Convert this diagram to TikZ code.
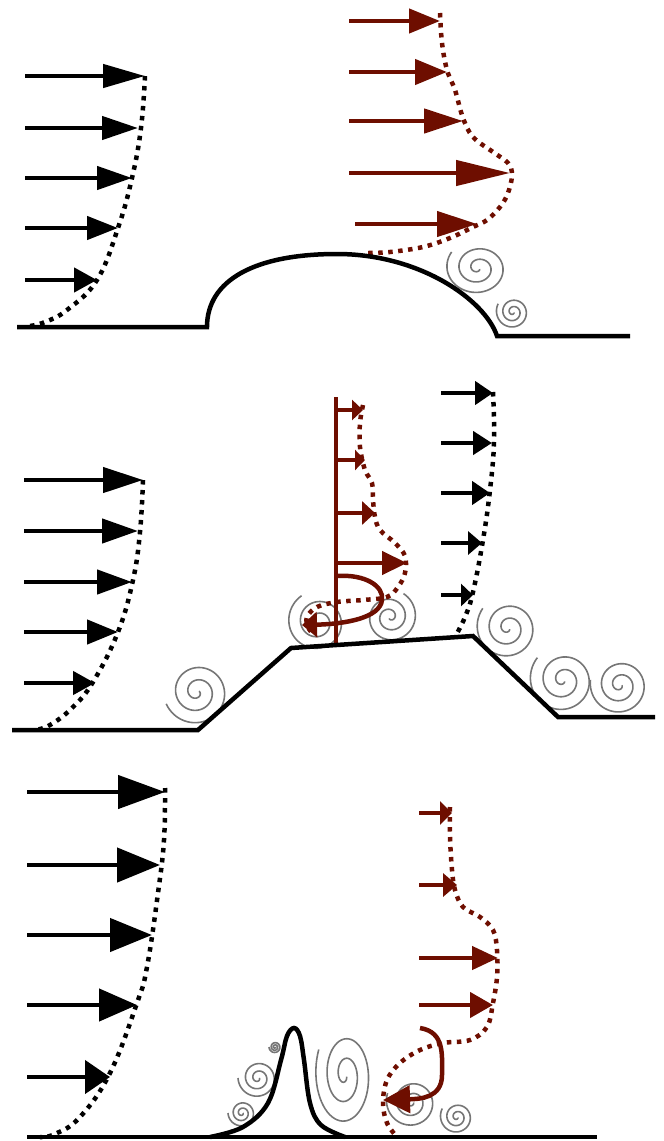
\documentclass[tikz,border=0pt]{standalone}
\usetikzlibrary{arrows.meta}
\definecolor{rust}{RGB}{110,14,0}
\definecolor{eddy}{RGB}{118,118,118}
\tikzset{
  wall/.style={line width=4.5pt, line join=miter},
  profile/.style={line width=4.5pt, dash pattern=on 4.5pt off 5.5pt},
  shaft/.style={line width=4.5pt},
  arrowhd/.style 2 args={-{Triangle[length=#1,width=#2]}},
  swirlline/.style={eddy, line width=1.6pt},
  % spiral: outer radius / end angle / winding sense
  pics/swirl/.style args={#1/#2/#3}{code={
    \draw[swirlline] plot[domain=0:900, samples=160, variable=\t]
      ({#2+#3*(\t-900)}:{#1*((\t+60)/960)});}},
}
\begin{document}
\begin{tikzpicture}[x=1pt,y=-1pt]
\useasboundingbox (0,0) rectangle (664,1141);

% ---------- top: rounded bump ----------
\pic[xscale=1.15] at (478,268) {swirl=28/215/1};
\pic at (513,312) {swirl=17/209/1};

\foreach \y/\x/\L/\W in {76/145/42/23, 128/138/36/23, 178/132/35/23, 228/118/31/23, 280/97/23/24}
  \draw[shaft, arrowhd={\L pt}{\W pt}] (25,\y) -- (\x,\y);
\draw[profile] plot[smooth, tension=0.7] coordinates {(145,76) (141,128) (132,178) (118,228) (97,280) (67,310) (45,322) (30,326)};

\foreach \y/\s/\x/\L/\W in {21/349/440/31/24, 72/349/447/32/25, 121/349/463/39/24, 173/349/510/54/25, 224/355/477/40/25}
  \draw[shaft, rust, arrowhd={\L pt}{\W pt}] (\s,\y) -- (\x,\y);
\draw[profile, rust] plot[smooth, tension=0.6] coordinates {(440,13) (442,43) (447,70) (455,90) (463,118) (473,137) (493,152) (508,163) (512,175) (508,193) (500,207) (487,220) (473,227) (450,238) (423,247) (390,252) (368,253)};

\draw[wall] (17,327) -- (207,327) .. controls (207,280) and (255,254) .. (337,254)
  .. controls (420,254) and (485,300) .. (497,336) -- (630,336);

% ---------- middle: plateau ----------
\pic at (197,692) {swirl=33/159/1};
\pic at (318,622) {swirl=31/238/1};
\pic at (390,617) {swirl=27/300/-1};
\pic at (508,628) {swirl=32/218/1};
\pic at (563,680) {swirl=34/221/1};
\pic at (620,685) {swirl=30/190/1};

\foreach \y/\x/\L/\W in {480/143/40/25, 531/138/36/24, 582/132/35/24, 632/118/31/24, 683/95/22/23}
  \draw[shaft, arrowhd={\L pt}{\W pt}] (24,\y) -- (\x,\y);
\draw[profile] plot[smooth, tension=0.7] coordinates {(143,480) (140,532) (133,580) (118,632) (93,682) (72,708) (50,725) (35,730)};

\foreach \y/\x/\L/\W in {393/493/18/23, 443/492/19/23, 493/490/18/23, 543/482/14/23, 595/473/12/22}
  \draw[shaft, arrowhd={\L pt}{\W pt}] (441,\y) -- (\x,\y);
\draw[profile] plot[smooth, tension=0.7] coordinates {(493,392) (494,442) (490,490) (483,540) (473,592) (465,617) (455,637)};

\draw[rust, line width=4.5pt] (336,397) -- (336,645);
\foreach \y/\x/\L/\W in {410/363/11/20, 460/365/10/20, 513/375/13/23, 563/407/25/23}
  \draw[shaft, rust, arrowhd={\L pt}{\W pt}] (336,\y) -- (\x,\y);
\draw[profile, rust] plot[smooth, tension=0.6] coordinates {(363,405) (360,423) (360,447) (365,470) (372,483) (373,500) (375,517) (380,530) (395,543) (405,556) (405,573) (398,587) (387,597) (363,600) (337,602) (317,607) (307,617) (308,627) (313,634)};
\draw[rust, line width=4.5pt, arrowhd={15pt}{25pt}] (337,576) .. controls (365,574) and (384,586) .. (382,600)
  .. controls (380,618) and (345,624) .. (302,625);

\draw[wall] (12,730) -- (198,730) -- (291,648) -- (473,636) -- (558,717) -- (655,717);

% ---------- bottom: narrow ridge ----------
\pic at (412,1102) {swirl=26/200/1};
\pic at (457,1117) {swirl=17/210/1};
\pic[yscale=1.75] at (345,1075) {swirl=30/209/1};
\pic at (258,1078) {swirl=20/180/1};
\pic at (242,1113) {swirl=14/180/1};
\pic at (275,1047) {swirl=6/180/1};

\foreach \y/\x/\L/\W in {792/165/47/33, 865/160/43/34, 935/152/42/33, 1005/137/38/32, 1077/110/25/33}
  \draw[shaft, arrowhd={\L pt}{\W pt}] (27,\y) -- (\x,\y);
\draw[profile] plot[smooth, tension=0.7] coordinates {(165,788) (164,840) (158,893) (147,967) (137,1003) (110,1073) (80,1117) (55,1134) (40,1137)};

\foreach \y/\x/\L/\W in {813/452/12/23, 885/457/14/23, 958/498/26/23, 1005/493/23/25}
  \draw[shaft, rust, arrowhd={\L pt}{\W pt}] (419,\y) -- (\x,\y);
\draw[profile, rust] plot[smooth, tension=0.6] coordinates {(450,807) (450,837) (452,870) (455,890) (463,907) (480,917) (493,930) (497,950) (497,977) (493,1003) (487,1027) (470,1040) (443,1043) (420,1050) (400,1063) (387,1080) (383,1103) (387,1123) (397,1137)};
\draw[rust, line width=4.5pt, arrowhd={27pt}{27pt}] (420,1028) .. controls (445,1032) and (442,1055) .. (442,1075)
  .. controls (442,1098) and (420,1099) .. (383,1100);

\draw[wall] (27,1137) -- (597,1137);
\draw[wall] plot[smooth, tension=0.6] coordinates {(210,1137) (243,1127) (268,1103) (281,1060) (287,1036) (294,1028) (300,1036) (304,1060) (310,1103) (321,1125) (345,1137)};
\end{tikzpicture}
\end{document}
